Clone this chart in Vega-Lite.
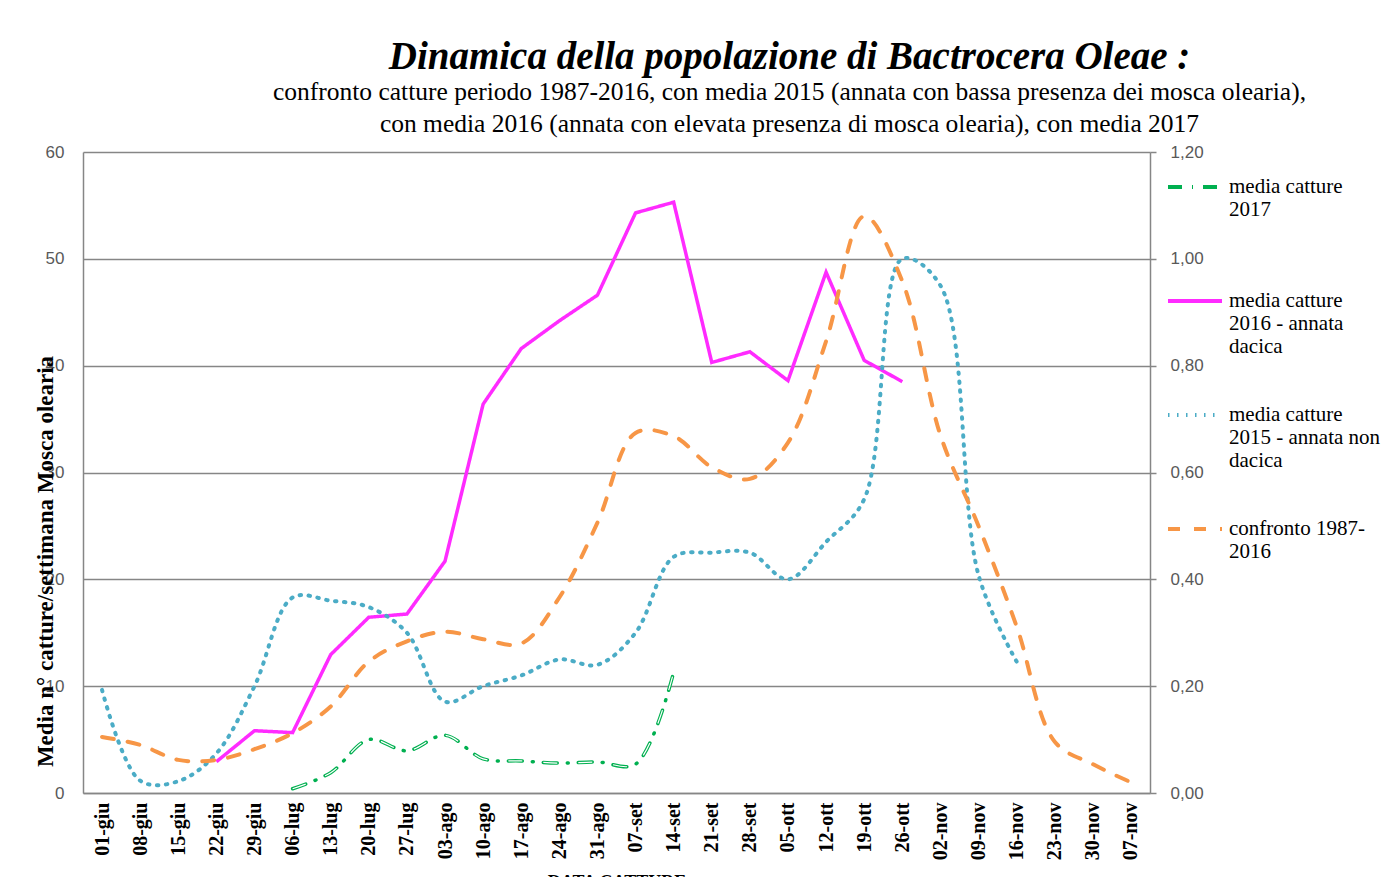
{
  "$schema": "https://vega.github.io/schema/vega-lite/v6.json",
  "autosize": "none",
  "width": 1067,
  "height": 641,
  "padding": {"left": 83, "top": 152, "right": 236, "bottom": 84},
  "background": "white",
  "config": {
    "view": {"stroke": null},
    "locale": {"number": {"decimal": ",", "thousands": ".", "grouping": [3], "currency": ["€", ""]}},
    "style": {"guide-label": {"lineHeight": 23}}
  },
  "title": {
    "text": "Dinamica della popolazione di Bactrocera Oleae :",
    "subtitle": ["confronto catture periodo 1987-2016, con media 2015 (annata con  bassa presenza dei  mosca  olearia),", "con media 2016 (annata con elevata presenza di  mosca  olearia), con media 2017"],
    "font": "Liberation Serif",
    "fontSize": 39,
    "fontStyle": "italic",
    "fontWeight": "bold",
    "color": "black",
    "subtitleFont": "Liberation Serif",
    "subtitleFontSize": 25.5,
    "subtitleColor": "black",
    "subtitleLineHeight": 32,
    "subtitlePadding": 3,
    "anchor": "middle",
    "dx": 173,
    "offset": 6
  },
  "datasets": {
    "d": [
      {"data": "22-giu", "serie": "media catture 2016 - annata dacica", "v": 2.93},
      {"data": "29-giu", "serie": "media catture 2016 - annata dacica", "v": 5.83},
      {"data": "06-lug", "serie": "media catture 2016 - annata dacica", "v": 5.65},
      {"data": "13-lug", "serie": "media catture 2016 - annata dacica", "v": 12.95},
      {"data": "20-lug", "serie": "media catture 2016 - annata dacica", "v": 16.45},
      {"data": "27-lug", "serie": "media catture 2016 - annata dacica", "v": 16.75},
      {"data": "03-ago", "serie": "media catture 2016 - annata dacica", "v": 21.7},
      {"data": "10-ago", "serie": "media catture 2016 - annata dacica", "v": 36.4},
      {"data": "17-ago", "serie": "media catture 2016 - annata dacica", "v": 41.6},
      {"data": "24-ago", "serie": "media catture 2016 - annata dacica", "v": 44.2},
      {"data": "31-ago", "serie": "media catture 2016 - annata dacica", "v": 46.6},
      {"data": "07-set", "serie": "media catture 2016 - annata dacica", "v": 54.3},
      {"data": "14-set", "serie": "media catture 2016 - annata dacica", "v": 55.3},
      {"data": "21-set", "serie": "media catture 2016 - annata dacica", "v": 40.3},
      {"data": "28-set", "serie": "media catture 2016 - annata dacica", "v": 41.3},
      {"data": "05-ott", "serie": "media catture 2016 - annata dacica", "v": 38.6},
      {"data": "12-ott", "serie": "media catture 2016 - annata dacica", "v": 48.75},
      {"data": "19-ott", "serie": "media catture 2016 - annata dacica", "v": 40.5},
      {"data": "26-ott", "serie": "media catture 2016 - annata dacica", "v": 38.5},
      {"data": "06-lug", "serie": "media catture 2017", "v": 0.4},
      {"data": "13-lug", "serie": "media catture 2017", "v": 1.9},
      {"data": "20-lug", "serie": "media catture 2017", "v": 5.0},
      {"data": "27-lug", "serie": "media catture 2017", "v": 3.95},
      {"data": "03-ago", "serie": "media catture 2017", "v": 5.4},
      {"data": "10-ago", "serie": "media catture 2017", "v": 3.2},
      {"data": "17-ago", "serie": "media catture 2017", "v": 3.0},
      {"data": "24-ago", "serie": "media catture 2017", "v": 2.8},
      {"data": "31-ago", "serie": "media catture 2017", "v": 2.9},
      {"data": "07-set", "serie": "media catture 2017", "v": 2.7},
      {"data": "14-set", "serie": "media catture 2017", "v": 11.3},
      {"data": "01-giu", "serie": "media catture 2015 - annata non dacica", "v": 0.193},
      {"data": "08-giu", "serie": "media catture 2015 - annata non dacica", "v": 0.023},
      {"data": "15-giu", "serie": "media catture 2015 - annata non dacica", "v": 0.022},
      {"data": "22-giu", "serie": "media catture 2015 - annata non dacica", "v": 0.074},
      {"data": "29-giu", "serie": "media catture 2015 - annata non dacica", "v": 0.2},
      {"data": "06-lug", "serie": "media catture 2015 - annata non dacica", "v": 0.366},
      {"data": "13-lug", "serie": "media catture 2015 - annata non dacica", "v": 0.36},
      {"data": "20-lug", "serie": "media catture 2015 - annata non dacica", "v": 0.348},
      {"data": "27-lug", "serie": "media catture 2015 - annata non dacica", "v": 0.3},
      {"data": "03-ago", "serie": "media catture 2015 - annata non dacica", "v": 0.171},
      {"data": "10-ago", "serie": "media catture 2015 - annata non dacica", "v": 0.2},
      {"data": "17-ago", "serie": "media catture 2015 - annata non dacica", "v": 0.22},
      {"data": "24-ago", "serie": "media catture 2015 - annata non dacica", "v": 0.25},
      {"data": "31-ago", "serie": "media catture 2015 - annata non dacica", "v": 0.24},
      {"data": "07-set", "serie": "media catture 2015 - annata non dacica", "v": 0.3},
      {"data": "14-set", "serie": "media catture 2015 - annata non dacica", "v": 0.442},
      {"data": "21-set", "serie": "media catture 2015 - annata non dacica", "v": 0.45},
      {"data": "28-set", "serie": "media catture 2015 - annata non dacica", "v": 0.45},
      {"data": "05-ott", "serie": "media catture 2015 - annata non dacica", "v": 0.4},
      {"data": "12-ott", "serie": "media catture 2015 - annata non dacica", "v": 0.47},
      {"data": "19-ott", "serie": "media catture 2015 - annata non dacica", "v": 0.55},
      {"data": "26-ott", "serie": "media catture 2015 - annata non dacica", "v": 1.0},
      {"data": "02-nov", "serie": "media catture 2015 - annata non dacica", "v": 0.95},
      {"data": "09-nov", "serie": "media catture 2015 - annata non dacica", "v": 0.408},
      {"data": "16-nov", "serie": "media catture 2015 - annata non dacica", "v": 0.246},
      {"data": "01-giu", "serie": "confronto 1987-2016", "v": 0.105},
      {"data": "08-giu", "serie": "confronto 1987-2016", "v": 0.09},
      {"data": "15-giu", "serie": "confronto 1987-2016", "v": 0.062},
      {"data": "22-giu", "serie": "confronto 1987-2016", "v": 0.062},
      {"data": "29-giu", "serie": "confronto 1987-2016", "v": 0.082},
      {"data": "06-lug", "serie": "confronto 1987-2016", "v": 0.112},
      {"data": "13-lug", "serie": "confronto 1987-2016", "v": 0.162},
      {"data": "20-lug", "serie": "confronto 1987-2016", "v": 0.246},
      {"data": "27-lug", "serie": "confronto 1987-2016", "v": 0.284},
      {"data": "03-ago", "serie": "confronto 1987-2016", "v": 0.302},
      {"data": "10-ago", "serie": "confronto 1987-2016", "v": 0.288},
      {"data": "17-ago", "serie": "confronto 1987-2016", "v": 0.28},
      {"data": "24-ago", "serie": "confronto 1987-2016", "v": 0.366},
      {"data": "31-ago", "serie": "confronto 1987-2016", "v": 0.506},
      {"data": "07-set", "serie": "confronto 1987-2016", "v": 0.674},
      {"data": "14-set", "serie": "confronto 1987-2016", "v": 0.668},
      {"data": "21-set", "serie": "confronto 1987-2016", "v": 0.61},
      {"data": "28-set", "serie": "confronto 1987-2016", "v": 0.588},
      {"data": "05-ott", "serie": "confronto 1987-2016", "v": 0.656},
      {"data": "12-ott", "serie": "confronto 1987-2016", "v": 0.846},
      {"data": "19-ott", "serie": "confronto 1987-2016", "v": 1.08},
      {"data": "26-ott", "serie": "confronto 1987-2016", "v": 0.958},
      {"data": "02-nov", "serie": "confronto 1987-2016", "v": 0.67},
      {"data": "09-nov", "serie": "confronto 1987-2016", "v": 0.5},
      {"data": "16-nov", "serie": "confronto 1987-2016", "v": 0.312},
      {"data": "23-nov", "serie": "confronto 1987-2016", "v": 0.096},
      {"data": "30-nov", "serie": "confronto 1987-2016", "v": 0.054},
      {"data": "07-nov", "serie": "confronto 1987-2016", "v": 0.02}
    ]
  },
  "data": {"name": "d"},
  "encoding": {
    "x": {
      "field": "data",
      "type": "ordinal",
      "scale": {
        "type": "point",
        "padding": 0.5,
        "domain": ["01-giu", "08-giu", "15-giu", "22-giu", "29-giu", "06-lug", "13-lug", "20-lug", "27-lug", "03-ago", "10-ago", "17-ago", "24-ago", "31-ago", "07-set", "14-set", "21-set", "28-set", "05-ott", "12-ott", "19-ott", "26-ott", "02-nov", "09-nov", "16-nov", "23-nov", "30-nov", "07-nov"]
      },
      "axis": {
        "title": "DATA CATTURE",
        "titleFont": "Liberation Serif",
        "titleFontWeight": "bold",
        "titleFontSize": 18,
        "titleColor": "black",
        "titleBaseline": "top",
        "titleY": 80,
        "labelAngle": 270,
        "labelAlign": "right",
        "labelBaseline": "middle",
        "labelFont": "Liberation Serif",
        "labelFontWeight": "bold",
        "labelFontSize": 20,
        "labelColor": "black",
        "labelPadding": 9,
        "ticks": false,
        "domainColor": "#868686",
        "domainWidth": 1.5,
        "grid": false
      }
    },
    "color": {
      "field": "serie",
      "type": "nominal",
      "scale": {
        "domain": ["media catture 2017", "media catture 2016 - annata dacica", "media catture 2015 - annata non dacica", "confronto 1987-2016"],
        "range": ["#00B050", "#FF2BFF", "#4BACC6", "#F79646"]
      },
      "legend": {
        "orient": "none",
        "legendX": 1083,
        "legendY": 6,
        "direction": "vertical",
        "title": null,
        "symbolType": "stroke",
        "symbolSize": 2916,
        "symbolStrokeWidth": 4,
        "labelFont": "Liberation Serif",
        "labelFontSize": 21,
        "labelColor": "black",
        "labelLimit": 400,
        "labelOffset": 5,
        "labelBaseline": "middle",
        "rowPadding": 29,
        "labelExpr": "datum.label == 'media catture 2017' ? ['media catture', '2017', ''] : datum.label == 'media catture 2016 - annata dacica' ? ['media catture', '2016 - annata', 'dacica'] : datum.label == 'media catture 2015 - annata non dacica' ? ['media catture', '2015 - annata non', 'dacica'] : ['confronto 1987-', '2016', '']"
      }
    },
    "strokeDash": {
      "field": "serie",
      "type": "nominal",
      "scale": {
        "domain": ["media catture 2017", "media catture 2016 - annata dacica", "media catture 2015 - annata non dacica", "confronto 1987-2016"],
        "range": [[14, 10, 1, 10], [1, 0], [1.5, 7.5], [12, 14]]
      },
      "legend": null
    }
  },
  "layer": [
    {
      "layer": [
        {
          "transform": [{"filter": "datum.serie == 'media catture 2016 - annata dacica'"}],
          "mark": {"type": "line", "strokeWidth": 3.5, "strokeJoin": "miter"},
          "encoding": {
            "y": {
              "field": "v",
              "type": "quantitative",
              "scale": {"domain": [0, 60]},
              "axis": {
                "orient": "left",
                "values": [0, 10, 20, 30, 40, 50, 60],
                "title": "Media n° catture/settimana Mosca olearia",
                "titleFont": "Liberation Serif",
                "titleFontWeight": "bold",
                "titleFontSize": 23,
                "titleColor": "black",
                "titleAngle": 270,
                "titleAlign": "center",
                "titleBaseline": "middle",
                "titleX": -38,
                "titleY": 409,
                "labelFont": "Liberation Sans",
                "labelFontSize": 17,
                "labelColor": "#595959",
                "labelPadding": 19,
                "ticks": false,
                "domainColor": "#868686",
                "domainWidth": 1.5,
                "grid": true,
                "gridColor": "#868686",
                "gridWidth": 1.5
              }
            }
          }
        },
        {
          "transform": [{"filter": "datum.serie == 'media catture 2017'"}],
          "mark": {"type": "line", "strokeWidth": 3.5, "strokeCap": "round", "interpolate": "catmull-rom"},
          "encoding": {"y": {"field": "v", "type": "quantitative", "scale": {"domain": [0, 60]}}}
        },
        {
          "transform": [{"filter": "datum.serie == 'media catture 2017'"}],
          "mark": {"type": "line", "strokeWidth": 1.2, "strokeCap": "butt", "interpolate": "catmull-rom", "color": "white", "strokeDash": [14, 11, 0, 10]},
          "encoding": {"y": {"field": "v", "type": "quantitative", "scale": {"domain": [0, 60]}}, "color": {"value": "white"}, "strokeDash": {"value": [14, 11, 0, 10]}}
        }
      ]
    },
    {
      "transform": [{"filter": "datum.serie == 'media catture 2015 - annata non dacica' || datum.serie == 'confronto 1987-2016'"}],
      "mark": {"type": "line", "strokeWidth": 4, "strokeCap": "round", "interpolate": "catmull-rom"},
      "encoding": {
        "y": {
          "field": "v",
          "type": "quantitative",
          "scale": {"domain": [0, 1.2]},
          "axis": {
            "orient": "right",
            "values": [0, 0.2, 0.4, 0.6, 0.8, 1.0, 1.2],
            "format": ".2f",
            "title": null,
            "labelFont": "Liberation Sans",
            "labelFontSize": 17,
            "labelColor": "#595959",
            "labelPadding": 14,
            "ticks": true,
            "tickSize": 6,
            "tickColor": "#868686",
            "tickWidth": 1.5,
            "domainColor": "#868686",
            "domainWidth": 1.5,
            "grid": false
          }
        }
      }
    }
  ],
  "resolve": {"scale": {"y": "independent"}}
}
